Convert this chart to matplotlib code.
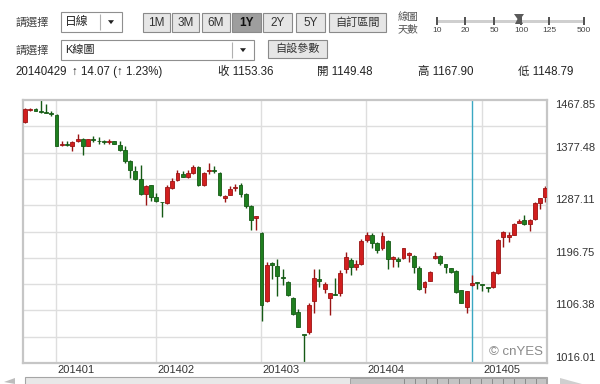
import numpy as np
import matplotlib
matplotlib.use('Agg')
import matplotlib.pyplot as plt
from matplotlib.patches import Rectangle, Polygon

plt.rcParams['font.family'] = ['Liberation Sans', 'Noto Sans CJK TC', 'DejaVu Sans']

# ---- data: daily OHLC, 100 sessions (201312 .. 201405) ----
opens = [
    1430.0, 1450.7, 1452.9, 1448.4, 1447.2, 1445.5, 1442.6, 1390.2, 1390.8, 1388.3,
    1396.9, 1401.4, 1389.3, 1400.3, 1397.3, 1395.9, 1396.2, 1396.9, 1391.0, 1382.5,
    1363.6, 1346.4, 1332.6, 1306.9, 1321.3, 1300.7, 1292.4, 1290.9, 1316.7, 1330.9,
    1340.7, 1335.0, 1342.4, 1352.2, 1321.3, 1345.9, 1347.0, 1342.4, 1299.5, 1305.2,
    1317.0, 1322.3, 1306.4, 1285.2, 1265.1, 1239.4, 1123.0, 1187.8, 1182.1, 1162.8,
    1154.7, 1127.2, 1104.1, 1064.1, 1069.8, 1123.0, 1160.8, 1142.6, 1127.2, 1134.6,
    1135.8, 1177.0, 1192.9, 1180.4, 1186.1, 1227.3, 1235.9, 1222.7, 1213.1, 1226.1,
    1194.2, 1195.2, 1195.9, 1201.0, 1199.8, 1178.7, 1147.1, 1157.4, 1195.9, 1199.8,
    1185.6, 1178.7, 1174.6, 1140.6, 1112.2, 1149.48, 1154.3, 1151.4, 1146.5, 1146.1,
    1170.1, 1233.0, 1233.0, 1235.9, 1257.1, 1261.7, 1254.8, 1262.9, 1291.4, 1300.7,
]
highs = [
    1454.1, 1454.1, 1453.6, 1467.85, 1461.5, 1448.9, 1443.8, 1397.4, 1396.9, 1396.6,
    1409.4, 1402.6, 1401.7, 1406.0, 1405.1, 1398.3, 1401.4, 1397.4, 1396.9, 1388.3,
    1364.8, 1353.9, 1356.7, 1321.8, 1321.8, 1308.1, 1292.8, 1321.3, 1333.8, 1348.1,
    1346.4, 1348.1, 1356.7, 1354.4, 1344.7, 1359.6, 1353.9, 1344.2, 1304.6, 1319.6,
    1323.5, 1325.2, 1308.1, 1287.5, 1268.6, 1241.1, 1189.5, 1188.7, 1194.2, 1177.5,
    1157.4, 1129.9, 1108.3, 1064.6, 1119.6, 1177.0, 1177.0, 1155.2, 1136.8, 1161.5,
    1175.8, 1207.2, 1195.9, 1192.9, 1228.5, 1241.6, 1239.4, 1223.9, 1241.6, 1227.3,
    1199.8, 1198.1, 1213.6, 1207.2, 1201.6, 1182.6, 1156.9, 1174.9, 1207.2, 1200.7,
    1186.1, 1179.2, 1175.8, 1141.4, 1139.7, 1167.90, 1154.5, 1151.7, 1147.4, 1174.1,
    1228.2, 1243.3, 1241.6, 1255.7, 1262.9, 1270.3, 1262.6, 1293.1, 1299.5, 1320.1,
]
lows = [
    1427.8, 1449.8, 1448.1, 1446.3, 1445.0, 1440.4, 1388.0, 1388.3, 1388.3, 1379.7,
    1395.7, 1373.9, 1388.8, 1395.7, 1392.3, 1393.1, 1392.8, 1391.4, 1380.7, 1359.6,
    1333.8, 1330.4, 1305.2, 1286.9, 1293.8, 1292.6, 1266.3, 1289.2, 1315.4, 1329.2,
    1335.6, 1333.8, 1340.7, 1320.1, 1320.1, 1340.7, 1342.4, 1302.9, 1292.6, 1304.1,
    1312.0, 1300.7, 1282.3, 1245.0, 1245.0, 1088.7, 1121.6, 1159.5, 1130.6, 1150.0,
    1131.1, 1098.5, 1077.3, 1016.01, 1065.8, 1102.4, 1147.1, 1135.8, 1098.5, 1132.0,
    1131.1, 1170.1, 1167.2, 1175.8, 1185.2, 1223.9, 1213.1, 1204.5, 1210.2, 1177.0,
    1180.4, 1180.4, 1194.7, 1190.0, 1170.1, 1141.4, 1135.8, 1156.9, 1194.7, 1184.4,
    1170.1, 1171.2, 1135.8, 1119.1, 1101.9, 1148.79, 1143.1, 1140.2, 1138.0, 1144.9,
    1168.9, 1215.3, 1224.4, 1235.1, 1255.7, 1253.9, 1243.3, 1261.7, 1280.0, 1293.1,
]
closes = [
    1452.9, 1452.4, 1448.4, 1446.7, 1445.5, 1443.8, 1388.3, 1390.8, 1390.2, 1395.7,
    1401.4, 1388.3, 1401.4, 1398.6, 1396.6, 1395.5, 1396.8, 1392.3, 1382.5, 1363.6,
    1348.1, 1332.6, 1306.4, 1320.6, 1300.7, 1293.8, 1291.8, 1317.9, 1329.2, 1342.4,
    1336.1, 1341.9, 1352.2, 1321.3, 1342.4, 1346.9, 1346.0, 1305.2, 1303.4, 1315.4,
    1318.6, 1306.4, 1285.2, 1261.2, 1268.0, 1115.1, 1184.9, 1183.9, 1165.0, 1161.4,
    1132.8, 1099.7, 1078.4, 1063.6, 1115.6, 1161.5, 1157.4, 1151.7, 1135.8, 1132.3,
    1170.1, 1198.6, 1180.4, 1185.6, 1225.6, 1235.9, 1222.7, 1210.2, 1234.2, 1194.2,
    1197.6, 1190.7, 1213.1, 1205.5, 1180.4, 1142.6, 1155.7, 1172.9, 1199.8, 1187.3,
    1180.4, 1172.9, 1138.5, 1119.6, 1139.29, 1153.36, 1153.6, 1150.6, 1145.0, 1172.9,
    1227.3, 1241.6, 1235.9, 1254.8, 1260.5, 1254.8, 1261.7, 1290.4, 1299.0, 1316.1,
]

month_idx = [6, 25, 45, 65, 87]
month_labels = ['201401', '201402', '201403', '201404', '201405']
y_ticks = [1016.01, 1106.38, 1196.75, 1287.11, 1377.48, 1467.85]
cursor_idx = 85

slider_labels = ['10', '20', '50', '100', '125', '500']
period_buttons = ['1M', '3M', '6M', '1Y', '2Y', '5Y']

# ---- colours ----
up_color = '#d21f1f'
up_edge = '#9a1414'
down_color = '#1f7f1f'
down_edge = '#155a15'
grid_color = '#dedede'
frame_color = '#c6c6c6'
text_color = '#222222'

W, H = 600, 384
fig = plt.figure(figsize=(6, 3.84), dpi=100, facecolor='white')


def fx(x):
    return x / W


def fy(y):
    return 1 - y / H


def box(x0, y0, x1, y1, fc, ec, lw=0.8, z=1):
    r = Rectangle((fx(x0), fy(y1)), fx(x1) - fx(x0), fy(y0) - fy(y1),
                  transform=fig.transFigure, facecolor=fc, edgecolor=ec, lw=lw, zorder=z)
    fig.patches.append(r)


def tri_down(cx, cy, s=3.0):
    p = Polygon([(fx(cx - s), fy(cy - s * 0.6)), (fx(cx + s), fy(cy - s * 0.6)), (fx(cx), fy(cy + s * 0.7))],
                closed=True, transform=fig.transFigure, facecolor='#222222', edgecolor='none', zorder=3)
    fig.patches.append(p)


# ---- header row 1 ----
fig.text(fx(15), fy(22), '請選擇', fontsize=8, color='#444444', va='center')
box(61, 12, 122, 32, 'white', '#8f8f8f')
fig.text(fx(65), fy(22), '日線', fontsize=8.5, color=text_color, va='center')
fig.patches.append(Rectangle((fx(100), fy(30)), 0, fy(14) - fy(30), transform=fig.transFigure,
                             edgecolor='#b0b0b0', lw=0.8))
tri_down(111, 22)

btn_x = [143, 172, 202, 232, 263, 296]
btn_w = [27, 27, 28, 29, 29, 29]
for bx, bw, lab in zip(btn_x, btn_w, period_buttons):
    sel = lab == '1Y'
    box(bx, 13, bx + bw, 32, '#9e9e9e' if sel else '#e6e6e6', '#8a8a8a')
    fig.text(fx(bx + bw / 2), fy(22.5), lab, fontsize=8.5, ha='center', va='center',
             color='#111111' if sel else '#333333', fontweight='bold' if sel else 'normal')
box(329, 13, 386, 32, '#e6e6e6', '#8a8a8a')
fig.text(fx(357.5), fy(22.5), '自訂區間', fontsize=8, ha='center', va='center', color='#333333')

fig.text(fx(398), fy(17), '線圖', fontsize=7.5, color='#555555', va='center')
fig.text(fx(398), fy(29), '天數', fontsize=7.5, color='#555555', va='center')

slider_x = [437, 465, 494, 521, 549, 584]
fig.patches.append(Rectangle((fx(437), fy(23)), fx(584) - fx(437), fy(20) - fy(23),
                             transform=fig.transFigure, facecolor='#cfcfcf', edgecolor='none'))
for sx, lab in zip(slider_x, slider_labels):
    fig.patches.append(Rectangle((fx(sx - 0.7), fy(25)), fx(1.4), fy(17) - fy(25),
                                 transform=fig.transFigure, facecolor='#555555', edgecolor='none'))
    fig.text(fx(sx), fy(30), lab, fontsize=6, ha='center', va='center', color='#444444')
handle = Polygon([(fx(514), fy(14)), (fx(524), fy(14)), (fx(520.5), fy(19)), (fx(523), fy(24)),
                  (fx(515), fy(24)), (fx(517.5), fy(19))],
                 closed=True, transform=fig.transFigure, facecolor='#5a5a5a', edgecolor='none')
fig.patches.append(handle)

# ---- header row 2 ----
fig.text(fx(15), fy(50), '請選擇', fontsize=8, color='#444444', va='center')
box(61, 40, 254, 60, 'white', '#8f8f8f')
fig.text(fx(65), fy(50), 'K線圖', fontsize=8, color=text_color, va='center')
fig.patches.append(Rectangle((fx(232), fy(58)), 0, fy(42) - fy(58), transform=fig.transFigure,
                             edgecolor='#b0b0b0', lw=0.8))
tri_down(243, 50)
box(268, 40, 327, 58, '#e6e6e6', '#8a8a8a')
fig.text(fx(297.5), fy(49), '自設參數', fontsize=8, ha='center', va='center', color='#333333')

# ---- header row 3: quote of the cursor day ----
fig.text(fx(15), fy(72), '20140429', fontsize=8.3, color=text_color, va='center')
fig.text(fx(72), fy(72), '\u2191 14.07 (\u2191 1.23%)', fontsize=8.3, color=text_color, va='center')
fig.text(fx(218), fy(72), f'收 {closes[cursor_idx]:.2f}', fontsize=8.3, color=text_color, va='center')
fig.text(fx(317), fy(72), f'開 {opens[cursor_idx]:.2f}', fontsize=8.3, color=text_color, va='center')
fig.text(fx(418), fy(72), f'高 {highs[cursor_idx]:.2f}', fontsize=8.3, color=text_color, va='center')
fig.text(fx(518), fy(72), f'低 {lows[cursor_idx]:.2f}', fontsize=8.3, color=text_color, va='center')

# ---- candlestick panel ----
ax = fig.add_axes([fx(23), fy(363), fx(547) - fx(23), fy(100) - fy(363)])
ax.set_facecolor('white')
ylo, yhi = y_ticks[0], y_ticks[-1]
ax.set_ylim(ylo, yhi)
ax.set_xlim(-0.38, 99.3)
ax.set_xticks([])
ax.set_yticks([])
for s in ax.spines.values():
    s.set_color(frame_color)
    s.set_linewidth(1.6)

for g in np.linspace(ylo, yhi, 11)[1:-1]:
    ax.axhline(g, color=grid_color, lw=1.0, zorder=0)
for m in month_idx:
    ax.axvline(m - 0.1, color=grid_color, lw=1.0, zorder=0)
ax.axvline(cursor_idx, color='#3aa8c2', lw=1.0, zorder=1)

o = np.array(opens)
h = np.array(highs)
l = np.array(lows)
c = np.array(closes)
x = np.arange(len(o))
up = c >= o
face = np.where(up, up_color, down_color)
edge = np.where(up, up_edge, down_edge)

ax.vlines(x, l, h, colors=edge, lw=1.0, zorder=2)
body_lo = np.minimum(o, c)
body_h = np.maximum(np.abs(c - o), 1.6)
ax.bar(x, body_h, bottom=body_lo, width=0.74, color=face, edgecolor=edge, lw=0.6, zorder=3)

# y labels on the right, sitting just above their grid line
ytf = ax.get_yaxis_transform()
for v in y_ticks:
    if v == y_ticks[-1]:
        ax.text(1.016, v, f'{v:.2f}', transform=ytf, fontsize=8, color='#333333',
                ha='left', va='top', clip_on=False)
    else:
        ax.text(1.016, v, f'{v:.2f}', transform=ytf, fontsize=8, color='#333333',
                ha='left', va='bottom', clip_on=False)

xtf = ax.get_xaxis_transform()
for m, lab in zip(month_idx, month_labels):
    ax.text(m + 0.2, -0.027, lab, transform=xtf, fontsize=8, color='#333333',
            ha='left', va='center', clip_on=False)

ax.text(0.992, 0.042, '\u00a9 cnYES', transform=ax.transAxes, fontsize=9.5,
        color='#8a8a8a', ha='right', va='center')

# ---- bottom scrollbar ----
box(25, 377, 547, 386, '#e8e8e8', '#a5a5a5', lw=0.8)
box(350, 377.5, 546, 386, '#c4c4c4', '#9a9a9a', lw=0.6)
for gx in np.arange(404, 545, 5.5):
    fig.patches.append(Rectangle((fx(gx), fy(384)), fx(0.8), fy(379) - fy(384),
                                 transform=fig.transFigure, facecolor='#8c8c8c', edgecolor='none', zorder=2))
fig.patches.append(Polygon([(fx(4), fy(382)), (fx(15), fy(378)), (fx(15), fy(384))], closed=True,
                           transform=fig.transFigure, facecolor='#bdbdbd', edgecolor='none'))
fig.patches.append(Polygon([(fx(560), fy(378)), (fx(582), fy(384)), (fx(560), fy(384))], closed=True,
                           transform=fig.transFigure, facecolor='#cfcfcf', edgecolor='none'))

fig.savefig('out.png', dpi=100, facecolor='white')
